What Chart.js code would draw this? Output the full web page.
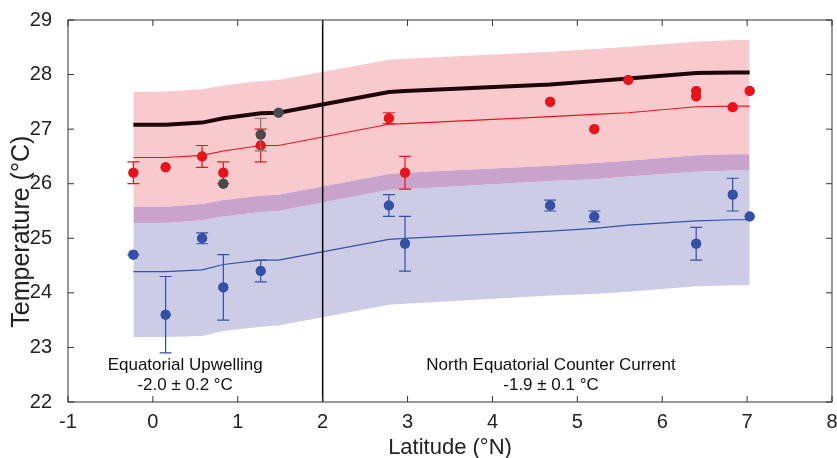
<!DOCTYPE html>
<html>
<head>
<meta charset="utf-8">
<script src="https://cdn.jsdelivr.net/npm/chart.js@4.4.1/dist/chart.umd.min.js"></script>
<style>
  html, body { margin: 0; padding: 0; background: #fff; }
  #wrap { width: 837px; height: 458px; }
</style>
</head>
<body>
<div id="wrap"><canvas id="myChart" width="837" height="458"></canvas></div>
<script>
// model latitudes and curves
const modelLat = [-0.23, 0.15, 0.58, 0.83, 1.27, 1.48, 2.78, 2.97, 4.68, 5.2, 5.6, 6.4, 6.83, 7.03];
const modelBlack = [27.08, 27.08, 27.12, 27.2, 27.29, 27.3, 27.68, 27.7, 27.82, 27.88, 27.93, 28.03, 28.04, 28.04];
const modelRed = [26.48, 26.48, 26.52, 26.6, 26.7, 26.7, 27.09, 27.1, 27.23, 27.27, 27.3, 27.41, 27.42, 27.42];
const modelBlue = [24.39, 24.39, 24.42, 24.52, 24.6, 24.6, 24.98, 25.0, 25.13, 25.18, 25.24, 25.32, 25.34, 25.34];
const pinkTop = [27.68, 27.69, 27.73, 27.8, 27.88, 27.9, 28.27, 28.29, 28.42, 28.47, 28.51, 28.6, 28.63, 28.64];
const pinkBottom = [25.58, 25.58, 25.63, 25.7, 25.78, 25.8, 26.18, 26.2, 26.33, 26.38, 26.42, 26.52, 26.54, 26.54];
const blueTop = [25.28, 25.28, 25.33, 25.4, 25.48, 25.5, 25.89, 25.9, 26.05, 26.08, 26.13, 26.22, 26.24, 26.24];
const blueBottom = [23.19, 23.19, 23.21, 23.3, 23.38, 23.4, 23.78, 23.8, 23.95, 23.98, 24.02, 24.12, 24.14, 24.14];

// observations
const redLat = [-0.23, 0.15, 0.58, 0.83, 1.27, 2.78, 2.97, 4.68, 5.2, 5.6, 6.4, 6.4, 6.83, 7.03];
const redTemp = [26.2, 26.3, 26.5, 26.2, 26.7, 27.2, 26.2, 27.5, 27.0, 27.9, 27.7, 27.6, 27.4, 27.7];
const redLo = [26.0, null, 26.3, 26.0, 26.4, 27.1, 25.9, null, null, null, null, null, null, null];
const redHi = [26.4, null, 26.7, 26.4, 27.0, 27.3, 26.5, null, null, null, null, null, null, null];

const grayLat = [0.83, 1.27, 1.48];
const grayTemp = [26.0, 26.9, 27.3];
const grayLo = [null, 26.6, null];
const grayHi = [null, 27.2, null];

const blueLat = [-0.23, 0.15, 0.58, 0.83, 1.27, 2.78, 2.97, 4.68, 5.2, 6.4, 6.83, 7.03];
const blueTemp = [24.7, 23.6, 25.0, 24.1, 24.4, 25.6, 24.9, 25.6, 25.4, 24.9, 25.8, 25.4];
const blueLo = [24.7, 22.9, 24.9, 23.5, 24.2, 25.4, 24.4, 25.5, 25.3, 24.6, 25.5, null];
const blueHi = [24.7, 24.3, 25.1, 24.7, 24.6, 25.8, 25.4, 25.7, 25.5, 25.2, 26.1, null];

const xTicks = [-1, 0, 1, 2, 3, 4, 5, 6, 7, 8];
const yTicks = [22, 23, 24, 25, 26, 27, 28, 29];
const divideLat = 2;
const notes = [
    { x: 0.38, lines: ['Equatorial Upwelling', '-2.0 \u00b1 0.2 \u00b0C'] },
    { x: 4.69, lines: ['North Equatorial Counter Current', '-1.9 \u00b1 0.1 \u00b0C'] }
];
const noteY = [22.68, 22.3];
const xTitle = 'Latitude (\u00b0N)';
const yTitle = 'Temperature (\u00b0C)';

const RED = '#e8141c', BLUE = '#3550a5', GRAY = '#4a4a4a';
const FONT = 'Liberation Sans, Arial, Helvetica, sans-serif';

function pts(xs, ys) {
    return xs.map((x, i) => ({ x: x, y: ys[i] }));
}

function band(ys, fill, color, order) {
    return {
        data: pts(modelLat, ys), showLine: true, pointRadius: 0,
        borderWidth: 0, borderColor: 'rgba(0,0,0,0)',
        backgroundColor: color, fill: fill, order: order
    };
}

function line(ys, color, width, order) {
    return {
        data: pts(modelLat, ys), showLine: true, pointRadius: 0,
        borderColor: color, borderWidth: width, fill: false, order: order
    };
}

function dots(xs, ys, lo, hi, color, barColor, order) {
    return {
        data: pts(xs, ys), pointRadius: 5, pointHoverRadius: 5, borderWidth: 0,
        backgroundColor: color, pointBackgroundColor: color,
        errLo: lo, errHi: hi, barColor: barColor, order: order
    };
}

const frame = {
    id: 'frame',
    afterDatasetsDraw(chart) {
        const { ctx, chartArea: a, scales: { x, y } } = chart;
        ctx.save();
        // vertical divider at 2N
        const dx = x.getPixelForValue(divideLat);
        ctx.strokeStyle = '#000';
        ctx.lineWidth = 1.5;
        ctx.beginPath();
        ctx.moveTo(dx, a.top);
        ctx.lineTo(dx, a.bottom);
        ctx.stroke();
        // error bars, blue then red then gray
        chart.data.datasets.slice().reverse().forEach(ds => {
            if (!ds.errLo) return;
            ctx.strokeStyle = ds.barColor;
            ctx.lineWidth = 1.2;
            ds.data.forEach((p, i) => {
                if (ds.errLo[i] == null) return;
                const px = x.getPixelForValue(p.x);
                const lo = y.getPixelForValue(ds.errLo[i]);
                const hi = y.getPixelForValue(ds.errHi[i]);
                ctx.beginPath();
                ctx.moveTo(px, lo); ctx.lineTo(px, hi);
                ctx.moveTo(px - 6, lo); ctx.lineTo(px + 6, lo);
                ctx.moveTo(px - 6, hi); ctx.lineTo(px + 6, hi);
                ctx.stroke();
            });
            ctx.fillStyle = ds.backgroundColor;
            ds.data.forEach(p => {
                ctx.beginPath();
                ctx.arc(x.getPixelForValue(p.x), y.getPixelForValue(p.y), 5, 0, Math.PI * 2);
                ctx.fill();
            });
        });
        // box and inward ticks
        ctx.strokeStyle = '#333';
        ctx.lineWidth = 1;
        ctx.strokeRect(a.left, a.top, a.right - a.left, a.bottom - a.top);
        ctx.beginPath();
        xTicks.forEach(v => {
            const px = x.getPixelForValue(v);
            ctx.moveTo(px, a.bottom); ctx.lineTo(px, a.bottom - 6);
            ctx.moveTo(px, a.top); ctx.lineTo(px, a.top + 6);
        });
        yTicks.forEach(v => {
            const py = y.getPixelForValue(v);
            ctx.moveTo(a.left, py); ctx.lineTo(a.left + 6, py);
            ctx.moveTo(a.right, py); ctx.lineTo(a.right - 6, py);
        });
        ctx.stroke();
        // region labels
        ctx.fillStyle = '#111';
        ctx.font = '17px ' + FONT;
        ctx.textAlign = 'center';
        ctx.textBaseline = 'middle';
        notes.forEach(n => {
            n.lines.forEach((t, k) => {
                ctx.fillText(t, x.getPixelForValue(n.x), y.getPixelForValue(noteY[k]));
            });
        });
        // axis titles
        ctx.fillStyle = '#222';
        ctx.font = '22px ' + FONT;
        ctx.fillText(xTitle, (a.left + a.right) / 2, 448);
        ctx.translate(22, y.getPixelForValue(25.12));
        ctx.rotate(-Math.PI / 2);
        ctx.font = '25px ' + FONT;
        ctx.fillText(yTitle, 0, 0);
        ctx.restore();
    }
};

new Chart(document.getElementById('myChart').getContext('2d'), {
    type: 'scatter',
    data: {
        datasets: [
            dots(grayLat, grayTemp, grayLo, grayHi, GRAY, '#777', 0),
            dots(redLat, redTemp, redLo, redHi, RED, RED, 1),
            dots(blueLat, blueTemp, blueLo, blueHi, BLUE, BLUE, 2),
            line(modelBlack, '#1e0606', 4, 3),
            line(modelRed, RED, 1.2, 4),
            line(modelBlue, BLUE, 1.2, 5),
            band(blueBottom, false, '#cccce6', 9),
            band(blueTop, 6, '#cccce6', 8),
            band(pinkBottom, 7, '#c9a3cc', 6),
            band(pinkTop, 8, '#f8cacd', 7)
        ]
    },
    options: {
        responsive: false,
        animation: false,
        events: [],
        layout: { padding: { top: 20, right: 4, left: 0, bottom: 0 } },
        plugins: {
            legend: { display: false },
            tooltip: { enabled: false }
        },
        scales: {
            x: {
                type: 'linear', min: -1, max: 8,
                afterFit: s => { s.height = 56; s.paddingLeft = 0; s.paddingRight = 0; },
                afterBuildTicks: s => { s.ticks = xTicks.map(v => ({ value: v })); },
                grid: { display: false },
                border: { display: false },
                ticks: { color: '#222', font: { size: 20, family: FONT }, padding: 0, maxRotation: 0 }
            },
            y: {
                min: 22, max: 29,
                afterFit: s => { s.width = 68; },
                afterBuildTicks: s => { s.ticks = yTicks.map(v => ({ value: v })); },
                grid: { display: false },
                border: { display: false },
                ticks: { color: '#222', font: { size: 20, family: FONT }, padding: 8 }
            }
        }
    },
    plugins: [frame]
});
</script>
</body>
</html>
